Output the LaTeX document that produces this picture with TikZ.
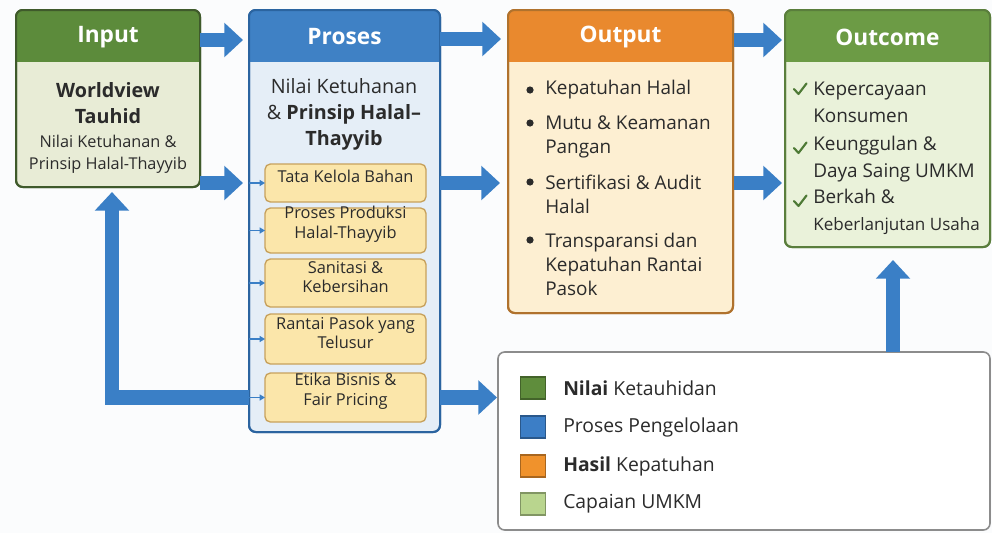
\documentclass[tikz,border=0pt]{standalone}
\usepackage{fontspec}
\setmainfont{Open Sans}
\usetikzlibrary{arrows.meta,fit,calc}
\definecolor{bgc}{HTML}{FBFCFD}
\definecolor{arrowc}{HTML}{3A7FC6}
\definecolor{inHead}{HTML}{5C8B3B}
\definecolor{inBody}{HTML}{E8ECD6}
\definecolor{inLine}{HTML}{3F5A2B}
\definecolor{prHead}{HTML}{3F81C5}
\definecolor{prBody}{HTML}{E5EEF7}
\definecolor{prLine}{HTML}{2B64A0}
\definecolor{ouHead}{HTML}{E9892E}
\definecolor{ouBody}{HTML}{FDEFD2}
\definecolor{ouLine}{HTML}{B0722D}
\definecolor{ocHead}{HTML}{6C9B45}
\definecolor{ocBody}{HTML}{EAF2DA}
\definecolor{ocLine}{HTML}{5A7E3C}
\definecolor{stepFill}{HTML}{FBE6AA}
\definecolor{stepLine}{HTML}{C7A15C}
\definecolor{txt}{HTML}{2B2B2B}
\definecolor{legLine}{HTML}{8C8C8C}
\definecolor{lgGreen}{HTML}{5F8D3C}
\definecolor{lgBlue}{HTML}{3C7EC6}
\definecolor{lgOrange}{HTML}{F0922C}
\definecolor{lgLight}{HTML}{B9D58E}
\definecolor{checkc}{HTML}{4E7A35}

\newcommand\mkpanel[6]{%
  \node[panel, draw=#4, fill=#5, fit={#2 #3}] (#1) {};
  \begin{scope}
    \clip[rounded corners=5pt] (#1.north west) rectangle (#1.south east);
    \fill[#6] (#1.north west) rectangle ($(#1.north east)+(0,52)$);
  \end{scope}
  \draw[#4, line width=1.5pt, rounded corners=5pt] (#1.north west) rectangle (#1.south east);
}

\begin{document}
\begin{tikzpicture}[x=0.75pt,y=-0.75pt,
  panel/.style={line width=1.5pt, rounded corners=5pt, inner sep=0pt, outer sep=0pt},
  hdr/.style={text=white, font=\fontsize{17}{20}\selectfont\bfseries, inner sep=0pt},
  body/.style={text=txt, align=center, inner sep=0pt},
  lst/.style={text=txt, align=left, anchor=west, inner sep=0pt},
  stepbox/.style={draw=stepLine, fill=stepFill, line width=1pt, rounded corners=4pt, inner sep=0pt, outer sep=0pt, align=center, font=\fontsize{12.3}{14.5}\selectfont, text=txt},
  bigarrow/.style={draw=arrowc, line width=11pt, line join=miter, -{Triangle[width=25pt,length=14pt]}},
  smallarrow/.style={draw=arrowc, line width=1.2pt, -{Triangle[width=4.5pt,length=4pt]}},
  legsq/.style={draw=#1!70!black, fill=#1, line width=0.8pt, minimum width=19pt, minimum height=16.5pt, inner sep=0pt},
  legtxt/.style={anchor=west, text=txt, font=\fontsize{14.5}{16}\selectfont, inner sep=0pt},
  chkmark/.style={draw=checkc, line width=1.6pt, line cap=round, line join=round},
]
\useasboundingbox (0,0) rectangle (992,533);
\fill[bgc] (0,0) rectangle (992,533);

% panels
\mkpanel{input}{(16,10)}{(200,187)}{inLine}{inBody}{inHead}
\mkpanel{proses}{(249,10)}{(440,432)}{prLine}{prBody}{prHead}
\mkpanel{output}{(508,10)}{(733,313)}{ouLine}{ouBody}{ouHead}
\mkpanel{outcome}{(785,10)}{(990,247)}{ocLine}{ocBody}{ocHead}
\node[panel, draw=legLine, fill=white, line width=1.2pt, fit={(498,352) (990,530)}] (legend) {};

% headers
\node[hdr] (inputT) at ($(input.north)+(0,27)$) {Input};
\node[hdr] (prosesT) at ($(proses.north)+(0,27)$) {Proses};
\node[hdr] (outputT) at ($(output.north)+(0,27)$) {Output};
\node[hdr] (outcomeT) at ($(outcome.north)+(0,27)$) {Outcome};

% input body
\node[body, font=\fontsize{14.8}{19.5}\selectfont\bfseries] (inW) at (108,103) {Worldview\\Tauhid};
\node[body, font=\fontsize{12.2}{16.5}\selectfont] (inN) at (108,154) {Nilai Ketuhanan \&\\Prinsip Halal-Thayyib};

% proses body
\node[body, font=\fontsize{14.8}{19.5}\selectfont] (prN) at (344,114) {Nilai Ketuhanan\\\& \textbf{Prinsip Halal–}\\\textbf{Thayyib}};

% step boxes
\node[stepbox, fit={(265,164) (426,202)}] (b1) {Tata Kelola Bahan};
\node[stepbox, fit={(265,208) (426,253)}] (b2) {Proses Produksi\\Halal-Thayyib};
\node[stepbox, fit={(265,259) (426,307)}] (b3) {Sanitasi \&\\Kebersihan};
\node[stepbox, fit={(265,314) (426,364)}] (b4) {Rantai Pasok yang\\Telusur};
\node[stepbox, fit={(265,373) (426,422)}] (b5) {Etika Bisnis \&\\Fair Pricing};

\foreach \b in {b1,b2,b3,b4,b5}{
  \draw[smallarrow] (proses.west |- \b) -- (\b.west);
}

% output list
\begin{scope}[font=\fontsize{14.2}{18}\selectfont]
\node[lst] (o1) at (545,90) {Kepatuhan Halal};
\node[lst] (o2) at (545,137) {Mutu \& Keamanan\\Pangan};
\node[lst] (o3) at (545,194) {Sertifikasi \& Audit\\Halal};
\node[lst] (o4) at (545,264) {Transparansi dan\\Kepatuhan Rantai\\Pasok};
\end{scope}
\foreach \y in {90,123,182,240}{
  \fill[txt] (530,\y) circle (3.6);
}

% outcome list
\begin{scope}[font=\fontsize{14.2}{20}\selectfont]
\node[lst] (c1) at (813,102) {Kepercayaan\\Konsumen};
\node[lst] (c2) at (813,159) {Keunggulan \&\\Daya Saing UMKM};
\node[lst] (c3) at (813,212) {Berkah \&\\{\fontsize{12.8}{14}\selectfont Keberlanjutan Usaha}};
\end{scope}
\foreach \y in {89,148,201}{
  \draw[chkmark] (794,\y) -- (798.5,\y+5) -- (806.5,\y-5.5);
}

% legend
\node[legsq=lgGreen] (s1) at (533,388) {};
\node[legsq=lgBlue] (s2) at (533,427) {};
\node[legsq=lgOrange] (s3) at (533,466) {};
\node[legsq=lgLight] (s4) at (533,504) {};
\node[legtxt] (t1) at (563,388) {\textbf{Nilai} Ketauhidan};
\node[legtxt] (t2) at (563,427) {Proses Pengelolaan};
\node[legtxt] (t3) at (563,466) {\textbf{Hasil} Kepatuhan};
\node[legtxt] (t4) at (563,504) {Capaian UMKM};

% big arrows
\draw[bigarrow] ($(input.east |- inputT)+(0,3)$) -- ($(proses.west |- inputT)+(-6,3)$);
\draw[bigarrow] ($(proses.east |- prosesT)+(0,2)$) -- ($(output.west |- prosesT)+(-7,2)$);
\draw[bigarrow] ($(output.east |- outputT)+(1,3)$) -- ($(outcome.west |- outputT)+(-3,3)$);
\draw[bigarrow] (input.east |- b1) -- ($(proses.west |- b1)+(-6,0)$);
\draw[bigarrow] (proses.east |- b1) -- ($(output.west |- b1)+(-8,0)$);
\draw[bigarrow] ($(output.east |- b1)+(1,0)$) -- ($(outcome.west |- b1)+(-3,0)$);
\draw[bigarrow] (proses.east |- b5) -- ($(legend.west |- b5)+(-1,0)$);
\coordinate (upx) at (893,300);
\draw[bigarrow] (legend.north -| upx) -- ($(outcome.south -| upx)+(0,13)$);
\draw[bigarrow] (proses.west |- b5) -| ($(input.south)+(4,5)$);
\end{tikzpicture}
\end{document}
